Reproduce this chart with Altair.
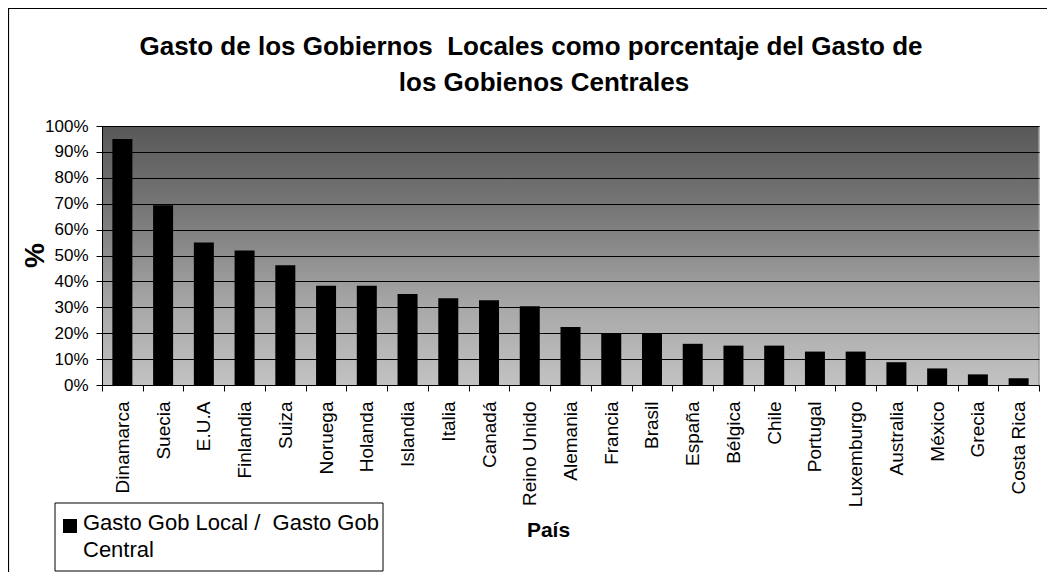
import altair as alt
import pandas as pd

countries = ["Dinamarca", "Suecia", "E.U.A", "Finlandia", "Suiza", "Noruega", "Holanda",
             "Islandia", "Italia", "Canadá", "Reino Unido", "Alemania", "Francia", "Brasil",
             "España", "Bélgica", "Chile", "Portugal", "Luxemburgo", "Australia", "México",
             "Grecia", "Costa Rica"]
values = [0.95, 0.694, 0.55, 0.519, 0.462, 0.383, 0.383, 0.351, 0.335, 0.327, 0.304,
          0.224, 0.201, 0.201, 0.159, 0.152, 0.152, 0.129, 0.129, 0.088, 0.064, 0.041, 0.026]
y_ticks = [0, 0.1, 0.2, 0.3, 0.4, 0.5, 0.6, 0.7, 0.8, 0.9, 1.0]
series_name = ["Gasto Gob Local /\u00a0 Gasto Gob", "Central"]
title_line1 = "Gasto de los Gobiernos \u00a0Locales como porcentaje del Gasto de"
title_line2 = "los Gobienos Centrales"

df = pd.DataFrame({"pais": countries, "valor": values})

FONT = "Liberation Sans"
W, H = 937, 259

x_enc = alt.X("pais:N", sort=None,
              scale=alt.Scale(paddingInner=0, paddingOuter=0),
              axis=alt.Axis(title="País", labelAngle=270, labelFontSize=19, labelFont=FONT,
                            labelColor="black", labelOverlap=False, labelLimit=300,
                            labelPadding=10, tickBand="extent", tickSize=6, tickColor="black",
                            domainColor="black", titleFont=FONT, titleFontSize=21,
                            titleFontWeight="bold", titleColor="black", titleX=446,
                            titleY=145, titleBaseline="middle", titleAlign="center",
                            zindex=0))
y_enc = alt.Y("valor:Q",
              scale=alt.Scale(domain=[0, 1], nice=False),
              axis=alt.Axis(title="%", format=".0%", values=y_ticks, labelFontSize=17,
                            labelFont=FONT, labelColor="black", labelPadding=8, tickSize=6,
                            tickColor="black", domainColor="black", grid=True,
                            gridColor="black", gridOpacity=1, gridWidth=1,
                            titleFont=FONT, titleFontSize=28, titleFontWeight="bold",
                            titleColor="black", titleAngle=270, titleX=-67, titleY=129,
                            titleBaseline="middle", titleAlign="center", zindex=1))

gradient = alt.LinearGradient(
    gradient="linear",
    stops=[alt.GradientStop(color="#585858", offset=0),
           alt.GradientStop(color="#7a7a7a", offset=0.35),
           alt.GradientStop(color="#a8a8a8", offset=0.7),
           alt.GradientStop(color="#c2c2c2", offset=1)],
    x1=0, x2=0, y1=0, y2=1)

one = alt.Data(values=[{"k": 1}])

background = alt.Chart(one).mark_rect(color=gradient).encode(
    x=alt.value(0), x2=alt.value(W), y=alt.value(0), y2=alt.value(H))

bars = alt.Chart(df).mark_bar(color="black", width=20).encode(
    x=x_enc, y=y_enc)

right_edge = alt.Chart(one).mark_rule(color="#9a9a9a", strokeWidth=1.5).encode(
    x=alt.value(W), y=alt.value(0), y2=alt.value(H))

frame = alt.Chart(one).mark_rect(fill=None, stroke="black", strokeWidth=1.2).encode(
    x=alt.value(-93.5), x2=alt.value(980), y=alt.value(-117.5), y2=alt.value(480))

title1 = alt.Chart(one).mark_text(text=title_line1, align="center", baseline="middle",
                                  font=FONT, fontSize=26, fontWeight="bold",
                                  color="black").encode(
    x=alt.value(429), y=alt.value(-79))

title2 = alt.Chart(one).mark_text(text=title_line2, align="center", baseline="middle",
                                  font=FONT, fontSize=26, fontWeight="bold",
                                  color="black").encode(
    x=alt.value(442), y=alt.value(-43))

legend_box = alt.Chart(one).mark_rect(fill="white", stroke="black", strokeWidth=1).encode(
    x=alt.value(-47), x2=alt.value(281), y=alt.value(377), y2=alt.value(445))

legend_sq = alt.Chart(one).mark_rect(color="black").encode(
    x=alt.value(-39), x2=alt.value(-25), y=alt.value(393), y2=alt.value(407))

legend_txt = alt.Chart(one).mark_text(text=series_name, align="left", baseline="top",
                                      font=FONT, fontSize=22, lineHeight=27,
                                      color="black").encode(
    x=alt.value(-19), y=alt.value(387))

chart = alt.layer(background, bars, right_edge, frame, title1, title2,
                  legend_box, legend_sq, legend_txt).properties(
    width=W, height=H,
    padding={"left": 94, "top": 118, "right": 8, "bottom": 187},
    autosize=alt.AutoSizeParams(type="none"),
).configure_view(stroke=None)

chart.save("out.html", embed_options={"renderer": "svg", "actions": False})
